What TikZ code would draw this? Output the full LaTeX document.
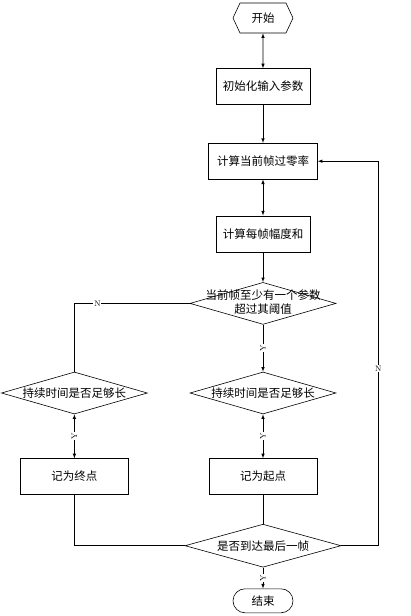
\documentclass[tikz,border=0pt]{standalone}
\usepackage{fontspec}
\newfontfamily\cjk{Noto Sans CJK SC}
\usepackage{tikz}
\usetikzlibrary{positioning,arrows,shapes.geometric,shapes.symbols}

\begin{document}
\begin{tikzpicture}[
    >=latex, line width=0.6pt,
    font={\cjk\fontsize{11.5}{14}\selectfont},
    process/.style={draw,rectangle,minimum height=36pt,inner sep=0pt},
    decision/.style={draw,diamond,inner sep=0pt,minimum width=146pt,minimum height=42pt},
    terminal/.style={draw,inner sep=0pt,minimum width=60pt},
    flag/.style={font={\rmfamily\fontsize{8}{9}\selectfont},fill=white,inner sep=0.8pt},
]
    \useasboundingbox (0,0) rectangle (410pt,-616pt);

    % Steps
    \node[terminal, signal, signal to=west and east, signal pointer angle=130, minimum height=30pt] (start) at (263pt,-18pt) {开始};
    \node[process, minimum width=94pt, below=35pt of start] (init) {初始化输入参数};
    \node[process, minimum width=109pt, below=38pt of init] (zcr) {计算当前帧过零率};
    \node[process, minimum width=94pt, below=36pt of zcr] (amp) {计算每帧幅度和};

    \node[decision, below=30pt of amp, label={[align=center,yshift=1pt]center:当前帧至少有一个参数\\超过其阈值}] (check) {};
    \node[decision, below=47pt of check, label={center:持续时间是否足够长}] (durR) {};
    \node[decision, left=42pt of durR, label={center:持续时间是否足够长}] (durL) {};

    \node[process, minimum width=108pt, below=44pt of durR] (markStart) {记为起点};
    \node[process, minimum width=108pt, below=44pt of durL] (markEnd) {记为终点};

    \node[decision, minimum width=156pt, minimum height=43pt, below=29pt of markStart, label={center:是否到达最后一帧}] (last) {};
    \node[terminal, rectangle, rounded corners=12pt, minimum height=24pt, below=21pt of last] (stop) {结束};

    % Flow
    \draw[<->] (start) -- (init);
    \draw[->] (init) -- (zcr);
    \draw[<->] (zcr) -- (amp);
    \draw[->] (amp) -- (check);
    \draw[->] (check) -- (durR) node[flag,midway,rotate=90] {Y};
    \draw (check.west) -| node[flag,pos=0.4] {N} (durL.north);
    \draw[<->] (durR) -- (markStart) node[flag,midway,rotate=90] {Y};
    \draw[<->] (durL) -- (markEnd) node[flag,midway,rotate=90] {Y};
    \draw (markStart) -- (last);
    \draw (markEnd.south) |- (last.west);
    \draw[->] (last.east) -- ++(37pt,0) |- node[flag,pos=0.23] {N} (zcr.east);
    \draw[->] (last) -- (stop) node[flag,midway,rotate=90] {Y};

\end{tikzpicture}
\end{document}
